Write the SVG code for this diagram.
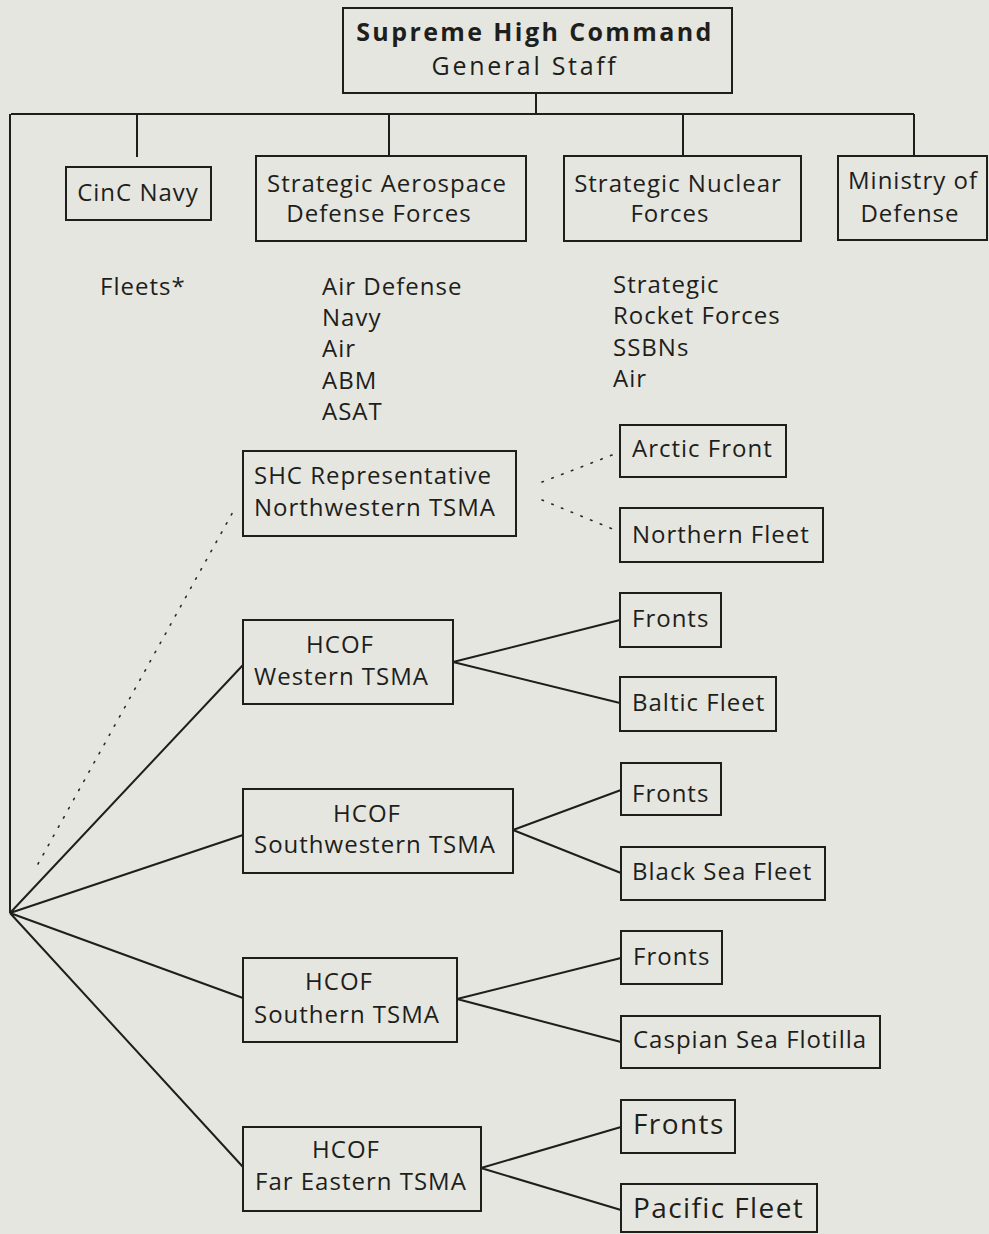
<svg xmlns="http://www.w3.org/2000/svg" width="989" height="1234" viewBox="0 0 989 1234">
<style>
.bg{fill:#e5e6df}
.box{fill:none;stroke:#1e1e1c;stroke-width:2}
.ln{fill:none;stroke:#1e1e1c;stroke-width:2}
.dot{fill:none;stroke:#2a2a28;stroke-width:1.6;stroke-dasharray:1.5 9;stroke-linecap:round}
text{font-family:"Open Sans","Noto Sans","DejaVu Sans",sans-serif;font-size:24px;letter-spacing:1px;fill:#1e1e1c}
.c{text-anchor:middle}
.b{font-weight:bold;font-size:25px;letter-spacing:2.4px}
.g{font-size:25px;letter-spacing:2.7px}
.big{font-size:28px;letter-spacing:1.4px}
</style>
<rect class="bg" x="0" y="0" width="989" height="1234"/>
<g id="connectors">
<path class="ln" d="M536 93V114M11 114H914M137 114V157M389 114V156M683 114V156M914 114V156M10 114V913"/>
<path class="ln" d="M10 913L243 665M10 913L243 835M10 913L243 998M10 913L243 1167"/>
<path class="ln" d="M453 662L620 620M453 662L620 703"/>
<path class="ln" d="M513 830L621 790M513 830L621 873"/>
<path class="ln" d="M457 999L621 958M457 999L621 1042"/>
<path class="ln" d="M481 1168L621 1127M481 1168L621 1210"/>
<path class="dot" d="M38 864L234 510"/>
<path class="dot" d="M542 482L620 452M542 500L620 532"/>
</g>
<g id="n-shc"><rect class="box" x="343" y="8" width="389" height="85"/><text class="c b" x="535" y="41">Supreme High Command</text><text class="c g" x="525" y="75">General Staff</text></g>
<g id="n-cinc"><rect class="box" x="66" y="167" width="145" height="53"/><text class="c" x="138" y="201">CinC Navy</text></g>
<g id="n-sadf"><rect class="box" x="256" y="156" width="270" height="85"/><text class="c" x="387" y="192">Strategic Aerospace</text><text class="c" x="379" y="222">Defense Forces</text></g>
<g id="n-snf"><rect class="box" x="564" y="156" width="237" height="85"/><text class="c" x="678" y="192">Strategic Nuclear</text><text class="c" x="670" y="222">Forces</text></g>
<g id="n-mod"><rect class="box" x="838" y="156" width="149" height="84"/><text class="c" x="913" y="189">Ministry of</text><text class="c" x="910" y="222">Defense</text></g>
<g id="t-fleets"><text x="100" y="295">Fleets*</text></g>
<g id="t-sadf-list"><text x="322" y="295">Air Defense</text><text x="322" y="326">Navy</text><text x="322" y="357">Air</text><text x="322" y="389">ABM</text><text x="322" y="420">ASAT</text></g>
<g id="t-snf-list"><text x="613" y="293">Strategic</text><text x="613" y="324">Rocket Forces</text><text x="613" y="356">SSBNs</text><text x="613" y="387">Air</text></g>
<g id="n-nw"><rect class="box" x="243" y="451" width="273" height="85"/><text x="254" y="484">SHC Representative</text><text x="254" y="516">Northwestern TSMA</text></g>
<g id="n-arctic"><rect class="box" x="620" y="425" width="166" height="52"/><text x="632" y="457">Arctic Front</text></g>
<g id="n-northern"><rect class="box" x="620" y="508" width="203" height="54"/><text x="632" y="543">Northern Fleet</text></g>
<g id="n-west"><rect class="box" x="243" y="620" width="210" height="84"/><text class="c" x="340" y="653">HCOF</text><text x="254" y="685">Western TSMA</text></g>
<g id="n-wfronts"><rect class="box" x="620" y="593" width="101" height="54"/><text x="632" y="627">Fronts</text></g>
<g id="n-baltic"><rect class="box" x="620" y="677" width="156" height="54"/><text x="632" y="711">Baltic Fleet</text></g>
<g id="n-sw"><rect class="box" x="243" y="789" width="270" height="84"/><text class="c" x="367" y="822">HCOF</text><text x="254" y="853">Southwestern TSMA</text></g>
<g id="n-swfronts"><rect class="box" x="621" y="763" width="100" height="52"/><text x="632" y="802">Fronts</text></g>
<g id="n-blacksea"><rect class="box" x="621" y="847" width="204" height="53"/><text x="632" y="880">Black Sea Fleet</text></g>
<g id="n-south"><rect class="box" x="243" y="958" width="214" height="84"/><text class="c" x="339" y="990">HCOF</text><text x="254" y="1023">Southern TSMA</text></g>
<g id="n-sfronts"><rect class="box" x="621" y="931" width="101" height="53"/><text x="633" y="965">Fronts</text></g>
<g id="n-caspian"><rect class="box" x="621" y="1016" width="259" height="52"/><text x="633" y="1048">Caspian Sea Flotilla</text></g>
<g id="n-fe"><rect class="box" x="243" y="1127" width="238" height="84"/><text class="c" x="346" y="1158">HCOF</text><text x="255" y="1190">Far Eastern TSMA</text></g>
<g id="n-fefronts"><rect class="box" x="621" y="1100" width="114" height="53"/><text class="big" x="633" y="1134">Fronts</text></g>
<g id="n-pacific"><rect class="box" x="621" y="1184" width="196" height="48"/><text class="big" x="633" y="1218">Pacific Fleet</text></g>
</svg>
